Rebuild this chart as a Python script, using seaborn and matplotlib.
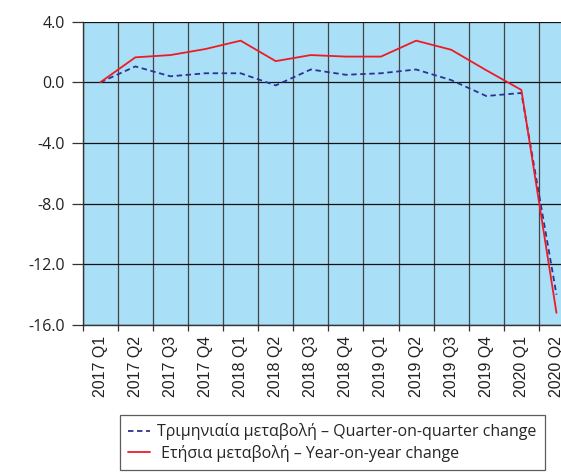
import numpy as np
import pandas as pd
import matplotlib
matplotlib.use("Agg")
import matplotlib.pyplot as plt
import seaborn as sns
from matplotlib.ticker import FixedLocator, FormatStrFormatter

# data
quarters = ["2017 Q1", "2017 Q2", "2017 Q3", "2017 Q4",
            "2018 Q1", "2018 Q2", "2018 Q3", "2018 Q4",
            "2019 Q1", "2019 Q2", "2019 Q3", "2019 Q4",
            "2020 Q1", "2020 Q2"]
qoq = [0.0, 1.05, 0.4, 0.6, 0.6, -0.2, 0.85, 0.5, 0.6, 0.85, 0.15, -0.9, -0.7, -14.0]
yoy = [0.0, 1.65, 1.8, 2.2, 2.75, 1.4, 1.8, 1.7, 1.7, 2.75, 2.15, 0.8, -0.5, -15.2]

label_qoq = "Τριμηνιαία μεταβολή – Quarter-on-quarter change"
label_yoy = " Ετήσια μεταβολή – Year-on-year change"

df = pd.DataFrame({
    "pos": list(range(len(quarters))) * 2,
    "value": qoq + yoy,
    "series": [label_qoq] * len(quarters) + [label_yoy] * len(quarters),
})

sns.set_style("ticks")
plt.rcParams['font.family'] = ['Liberation Sans', 'DejaVu Sans']

fig = plt.figure(figsize=(5.61, 4.75), dpi=100)
ax = fig.add_axes([0.1474, 0.3158, 0.8758, 0.6385])
ax.set_facecolor("#A9DFF7")

sns.lineplot(data=df, x="pos", y="value", hue="series", style="series",
             palette={label_qoq: "#2E3192", label_yoy: "#ED1C24"},
             dashes={label_qoq: (3, 2), label_yoy: ""},
             linewidth=1.3, ax=ax, legend=False, zorder=3)

ax.set_xlim(-0.5, len(quarters) - 0.5)
ax.set_ylim(-16, 4)
ax.set_yticks(np.arange(-16, 4.1, 4))
ax.yaxis.set_major_formatter(FormatStrFormatter("%.1f"))
ax.set_xticks(range(len(quarters)))
ax.set_xticklabels(quarters, rotation=90)
ax.xaxis.set_minor_locator(FixedLocator(np.arange(-0.5, len(quarters), 1)))
ax.set_xlabel("")
ax.set_ylabel("")

ax.grid(axis="y", which="major", color="#111111", linewidth=0.9)
ax.grid(axis="x", which="minor", color="#444444", linewidth=0.9)
ax.set_axisbelow(True)

ax.tick_params(axis="y", length=8, width=0.9, color="#333333", labelsize=11.5, pad=5, labelcolor="#222222")
ax.tick_params(axis="x", which="major", length=0, labelsize=11.5, pad=8, labelcolor="#222222")
ax.tick_params(axis="x", which="minor", length=4, width=0.9, color="#333333")
for t in ax.get_yticklabels():
    t.set_family(["Open Sans", "DejaVu Sans"])

for s in ["top", "right"]:
    ax.spines[s].set_visible(False)
for s in ["left", "bottom"]:
    ax.spines[s].set_color("#333333")
    ax.spines[s].set_linewidth(1.0)

handles = [
    plt.Line2D([], [], color="#2E3192", linestyle=(0, (3, 2)), linewidth=1.3),
    plt.Line2D([], [], color="#ED1C24", linewidth=1.3),
]
leg = fig.legend(handles, [label_qoq, label_yoy], loc="center",
                 bbox_to_anchor=(0.592, 0.0684), frameon=True, fancybox=False,
                 prop={"family": ["Open Sans", "DejaVu Sans"], "size": 11.5},
                 handlelength=1.4, handletextpad=0.45, borderpad=0.5,
                 labelspacing=0.3, borderaxespad=0)
leg.get_frame().set_edgecolor("#333333")
leg.get_frame().set_linewidth(0.9)

fig.savefig("out.png", dpi=100)
